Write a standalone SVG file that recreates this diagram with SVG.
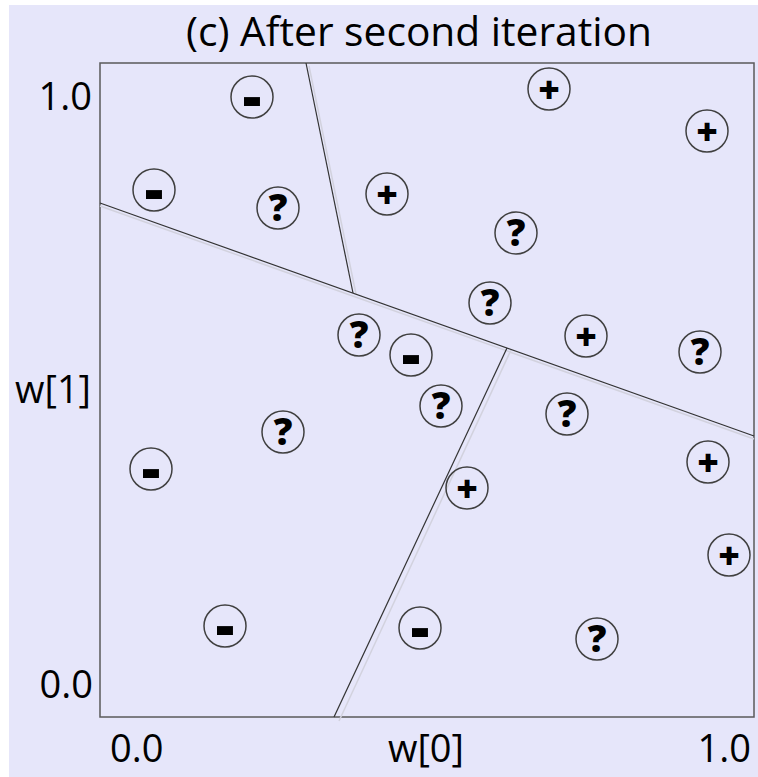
<svg xmlns="http://www.w3.org/2000/svg" width="758" height="777" viewBox="0 0 758 777">
  <style>
    .lbl { font-family: "Open Sans", "Liberation Sans", sans-serif; font-size: 38px; fill: #000; }
    .title { font-family: "Open Sans", "Liberation Sans", sans-serif; font-size: 40px; fill: #000; }
    .pt circle { fill: none; stroke: #404040; stroke-width: 1.5; }
    .pt text { font-family: "Open Sans", "Liberation Sans", sans-serif; font-weight: 800; font-size: 37px; fill: #000; text-anchor: middle; }
    .pt text.m { font-size: 58px; }
    .sep { stroke: #333; stroke-width: 1.2; fill: none; }
    .shadow { stroke: #d2d2de; stroke-width: 1.5; fill: none; }
  </style>

  <rect x="0" y="0" width="758" height="777" fill="#ffffff"/>
  <rect x="9" y="5" width="749" height="772" fill="#e6e6fa"/>

  <text class="title" x="186" y="46" textLength="466" lengthAdjust="spacingAndGlyphs">(c) After second iteration</text>

  <!-- plot frame -->
  <rect x="100" y="63" width="654" height="654" fill="#e6e6fa" stroke="#5a5a5a" stroke-width="1.5"/>

  <!-- axis labels -->
  <text class="lbl" x="92" y="110" text-anchor="end">1.0</text>
  <text class="lbl" x="93" y="698" text-anchor="end">0.0</text>
  <text class="lbl" x="15" y="403">w[1]</text>
  <text class="lbl" x="110" y="762">0.0</text>
  <text class="lbl" x="426" y="762" text-anchor="middle">w[0]</text>
  <text class="lbl" x="751" y="762" text-anchor="end">1.0</text>

  <!-- decision boundaries -->
  <g id="connectors">
    <path class="shadow" d="M100,206 L754,439"/>
    <path class="shadow" d="M309,66 L356,294"/>
    <path class="shadow" d="M511,350 L339,721"/>
    <path class="sep" d="M100,203 L754,436"/>
    <path class="sep" d="M306,63 L353,293"/>
    <path class="sep" d="M507,348 L334,717"/>
  </g>

  <!-- samples -->
  <g id="n1" class="pt"><circle cx="252" cy="97" r="21"/><text class="m" x="252" y="117">-</text></g>
  <g id="n2" class="pt"><circle cx="154" cy="190" r="21"/><text class="m" x="154" y="210">-</text></g>
  <g id="n3" class="pt"><circle cx="278" cy="208" r="21"/><text x="278" y="221">?</text></g>
  <g id="n4" class="pt"><circle cx="387" cy="194" r="21"/><text x="387" y="208">+</text></g>
  <g id="n5" class="pt"><circle cx="549" cy="89" r="21"/><text x="549" y="103">+</text></g>
  <g id="n6" class="pt"><circle cx="707" cy="131" r="21"/><text x="707" y="145">+</text></g>
  <g id="n7" class="pt"><circle cx="516" cy="233" r="21"/><text x="516" y="246">?</text></g>
  <g id="n8" class="pt"><circle cx="490" cy="303" r="21"/><text x="490" y="316">?</text></g>
  <g id="n9" class="pt"><circle cx="359" cy="335" r="21"/><text x="359" y="348">?</text></g>
  <g id="n10" class="pt"><circle cx="411" cy="355" r="21"/><text class="m" x="411" y="375">-</text></g>
  <g id="n11" class="pt"><circle cx="586" cy="336" r="21"/><text x="586" y="350">+</text></g>
  <g id="n12" class="pt"><circle cx="700" cy="352" r="21"/><text x="700" y="365">?</text></g>
  <g id="n13" class="pt"><circle cx="441" cy="406" r="21"/><text x="441" y="419">?</text></g>
  <g id="n14" class="pt"><circle cx="567" cy="414" r="21"/><text x="567" y="427">?</text></g>
  <g id="n15" class="pt"><circle cx="283" cy="432" r="21"/><text x="283" y="445">?</text></g>
  <g id="n16" class="pt"><circle cx="151" cy="469" r="21"/><text class="m" x="151" y="489">-</text></g>
  <g id="n17" class="pt"><circle cx="708" cy="462" r="21"/><text x="708" y="476">+</text></g>
  <g id="n18" class="pt"><circle cx="467" cy="488" r="21"/><text x="467" y="502">+</text></g>
  <g id="n19" class="pt"><circle cx="729" cy="555" r="21"/><text x="729" y="569">+</text></g>
  <g id="n20" class="pt"><circle cx="225" cy="626" r="21"/><text class="m" x="225" y="646">-</text></g>
  <g id="n21" class="pt"><circle cx="420" cy="628" r="21"/><text class="m" x="420" y="648">-</text></g>
  <g id="n22" class="pt"><circle cx="597" cy="639" r="21"/><text x="597" y="652">?</text></g>
</svg>
